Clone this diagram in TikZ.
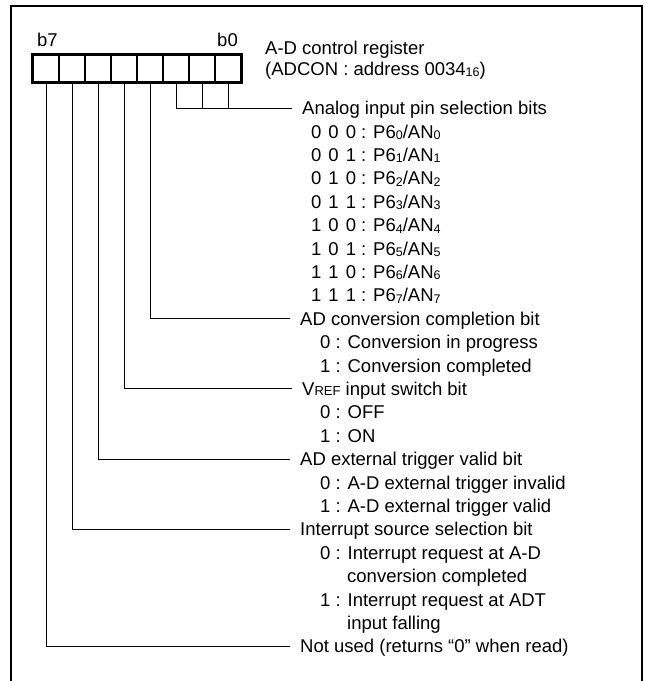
\documentclass[tikz,border=0pt]{standalone}
\usepackage{fontspec}
\setmainfont{Liberation Sans}
\usetikzlibrary{calc}
\newcommand{\regsub}[1]{\raisebox{-1.5pt}{\fontsize{12.5}{12.5}\selectfont #1}}

\begin{document}
\begin{tikzpicture}[x=1pt, y=-1pt,
    txt/.style={inner sep=0pt, text height=13.25pt, text depth=0pt, anchor=west,
      font=\fontsize{18.5}{22}\selectfont},
    head/.style={txt, inner xsep=10pt},
    bitcell/.style={draw, line width=1.5pt, minimum width=26pt, minimum height=27pt, inner sep=0pt},
    tap/.style={line width=0.9pt}]
  \useasboundingbox (0,0) rectangle (645,681);
  % frame, open at the bottom
  \draw[line width=2.2pt] (11,681) -- (11,6) -- (642,6) -- (642,681);
  % register cells, b0 on the right
  \foreach \i in {0,...,7}
    \node[bitcell] (b\i) at ({228-26*\i},68.5) {};
  \draw[line width=2.6pt] (b7.north west) rectangle (b0.south east);
  \node[txt] (lb7) at (37,40) {b7};
  \node[txt, anchor=east] (lb0) at (238,40) {b0};
  \node[txt] (title) at (265,48) {A-D control register};
  \node[txt] (addr) at (265,68.5) {(ADCON : address 0034\regsub{16})};
  % bits 0-2: analog input pins
  \node[head] (ana) at (292,108) {Analog input pin selection bits};
  \foreach \a/\b/\c [count=\k from 0] in {0/0/0,0/0/1,0/1/0,0/1/1,1/0/0,1/0/1,1/1/0,1/1/1}
    \node[txt] (pin\k) at (311,{131.4+23.4*\k})
      {\a\hspace{7pt}\b\hspace{7pt}\c\ : P6\regsub{\k}/AN\regsub{\k}};
  \draw[tap] (b2.south) |- (ana.west);
  \draw[tap] (b1.south) -- (b1.south |- ana.west);
  \draw[tap] (b0.south) -- (b0.south |- ana.west);
  % bit 3
  \node[head] (adc) at (290,318.6) {AD conversion completion bit};
  \node[txt] (adc0) at (320,342) {0 : Conversion in progress};
  \node[txt] (adc1) at (320,365.4) {1 : Conversion completed};
  \draw[tap] (b3.south) |- (adc.west);
  % bit 4
  \node[head] (vref) at (292,388.8) {V{\fontsize{13}{13}\selectfont REF} input switch bit};
  \node[txt] (vref0) at (320,412.2) {0 : OFF};
  \node[txt] (vref1) at (320,435.6) {1 : ON};
  \draw[tap] (b4.south) |- (vref.west);
  % bit 5
  \node[head] (trg) at (290,459) {AD external trigger valid bit};
  \node[txt] (trg0) at (320,482.4) {0 : A-D external trigger invalid};
  \node[txt] (trg1) at (320,505.8) {1 : A-D external trigger valid};
  \draw[tap] (b5.south) |- (trg.west);
  % bit 6
  \node[head] (irq) at (290,529.2) {Interrupt source selection bit};
  \node[txt] (irq0) at (320,552.6) {0 : Interrupt request at A-D};
  \node[txt] (irq0b) at (347,576) {conversion completed};
  \node[txt] (irq1) at (320,599.4) {1 : Interrupt request at ADT};
  \node[txt] (irq1b) at (347,622.8) {input falling};
  \draw[tap] (b6.south) |- (irq.west);
  % bit 7
  \node[head] (nu) at (290,646.2) {Not used (returns “0” when read)};
  \draw[tap] (b7.south) |- (nu.west);
\end{tikzpicture}
\end{document}
